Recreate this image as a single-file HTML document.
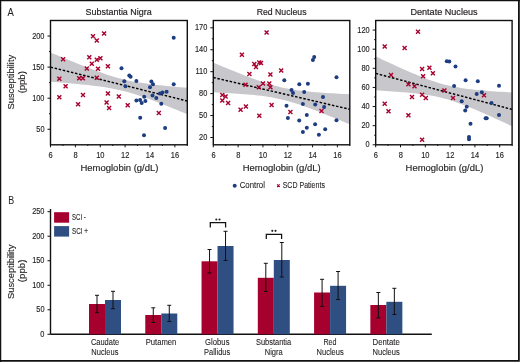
<!DOCTYPE html>
<html><head><meta charset="utf-8"><style>
html,body{margin:0;padding:0;background:#fff;width:520px;height:362px;overflow:hidden;position:relative}
</style></head><body>
<svg width="520" height="362" viewBox="0 0 520 362" style="position:absolute;left:0;top:0;will-change:transform">
<g font-family='"Liberation Sans", sans-serif' fill="#231f20" stroke="#231f20" stroke-width="0.3">
<path d="M0.6,0 V362 M0,0.6 H520" stroke="#111" stroke-width="1.3" fill="none"/>
<path d="M518.9,0 V361.6 M0,360.8 H519.8" stroke="#111" stroke-width="1.8" fill="none"/>
<text x="7.40" y="15.65" font-size="11" textLength="6.32" lengthAdjust="spacingAndGlyphs" stroke-width="0.05">A</text>
<text x="8.24" y="204.30" font-size="11" textLength="5.92" lengthAdjust="spacingAndGlyphs" stroke-width="0.05">B</text>
<path d="M50.50,52.49 L53.92,53.91 L57.34,55.33 L60.76,56.75 L64.18,58.16 L67.60,59.56 L71.02,60.95 L74.44,62.34 L77.86,63.71 L81.28,65.07 L84.70,66.42 L88.12,67.75 L91.54,69.05 L94.96,70.34 L98.38,71.59 L101.80,72.81 L105.22,73.99 L108.64,75.13 L112.06,76.21 L115.48,77.24 L118.90,78.20 L122.32,79.10 L125.74,79.92 L129.16,80.68 L132.58,81.38 L136.00,82.01 L139.42,82.59 L142.84,83.12 L146.26,83.61 L149.68,84.06 L153.10,84.48 L156.52,84.88 L159.94,85.26 L163.36,85.61 L166.78,85.95 L170.20,86.28 L173.62,86.59 L177.04,86.90 L180.46,87.20 L183.88,87.48 L187.30,87.77 L187.30,114.23 L183.88,112.82 L180.46,111.41 L177.04,110.02 L173.62,108.63 L170.20,107.25 L166.78,105.88 L163.36,104.52 L159.94,103.18 L156.52,101.86 L153.10,100.57 L149.68,99.29 L146.26,98.05 L142.84,96.85 L139.42,95.68 L136.00,94.57 L132.58,93.50 L129.16,92.50 L125.74,91.57 L122.32,90.70 L118.90,89.90 L115.48,89.17 L112.06,88.50 L108.64,87.89 L105.22,87.33 L101.80,86.81 L98.38,86.34 L94.96,85.90 L91.54,85.49 L88.12,85.10 L84.70,84.73 L81.28,84.38 L77.86,84.05 L74.44,83.73 L71.02,83.42 L67.60,83.11 L64.18,82.82 L60.76,82.54 L57.34,82.26 L53.92,81.98 L50.50,81.71Z" fill="#c8c7cc" stroke="none"/>
<line x1="50.5" y1="67.1" x2="187.3" y2="101.0" stroke="#000" stroke-width="1.45" stroke-dasharray="2.5 1.7"/>
<path d="M61.10,57.30 L65.10,61.30 M61.10,61.30 L65.10,57.30" stroke="#a8002e" stroke-width="1.4" fill="none"/>
<path d="M91.00,34.30 L95.00,38.30 M91.00,38.30 L95.00,34.30" stroke="#a8002e" stroke-width="1.4" fill="none"/>
<path d="M94.80,38.40 L98.80,42.40 M94.80,42.40 L98.80,38.40" stroke="#a8002e" stroke-width="1.4" fill="none"/>
<path d="M102.10,31.60 L106.10,35.60 M102.10,35.60 L106.10,31.60" stroke="#a8002e" stroke-width="1.4" fill="none"/>
<path d="M87.30,55.30 L91.30,59.30 M87.30,59.30 L91.30,55.30" stroke="#a8002e" stroke-width="1.4" fill="none"/>
<path d="M94.80,57.70 L98.80,61.70 M94.80,61.70 L98.80,57.70" stroke="#a8002e" stroke-width="1.4" fill="none"/>
<path d="M98.40,56.30 L102.40,60.30 M98.40,60.30 L102.40,56.30" stroke="#a8002e" stroke-width="1.4" fill="none"/>
<path d="M89.80,61.80 L93.80,65.80 M89.80,65.80 L93.80,61.80" stroke="#a8002e" stroke-width="1.4" fill="none"/>
<path d="M84.80,66.50 L88.80,70.50 M84.80,70.50 L88.80,66.50" stroke="#a8002e" stroke-width="1.4" fill="none"/>
<path d="M96.00,66.80 L100.00,70.80 M96.00,70.80 L100.00,66.80" stroke="#a8002e" stroke-width="1.4" fill="none"/>
<path d="M105.90,64.30 L109.90,68.30 M105.90,68.30 L109.90,64.30" stroke="#a8002e" stroke-width="1.4" fill="none"/>
<path d="M57.30,76.70 L61.30,80.70 M57.30,80.70 L61.30,76.70" stroke="#a8002e" stroke-width="1.4" fill="none"/>
<path d="M77.20,76.20 L81.20,80.20 M77.20,80.20 L81.20,76.20" stroke="#a8002e" stroke-width="1.4" fill="none"/>
<path d="M80.90,76.20 L84.90,80.20 M80.90,80.20 L84.90,76.20" stroke="#a8002e" stroke-width="1.4" fill="none"/>
<path d="M94.80,75.80 L98.80,79.80 M94.80,79.80 L98.80,75.80" stroke="#a8002e" stroke-width="1.4" fill="none"/>
<path d="M63.60,84.30 L67.60,88.30 M63.60,88.30 L67.60,84.30" stroke="#a8002e" stroke-width="1.4" fill="none"/>
<path d="M57.30,95.20 L61.30,99.20 M57.30,99.20 L61.30,95.20" stroke="#a8002e" stroke-width="1.4" fill="none"/>
<path d="M81.00,93.10 L85.00,97.10 M81.00,97.10 L85.00,93.10" stroke="#a8002e" stroke-width="1.4" fill="none"/>
<path d="M76.10,102.20 L80.10,106.20 M76.10,106.20 L80.10,102.20" stroke="#a8002e" stroke-width="1.4" fill="none"/>
<path d="M105.90,91.40 L109.90,95.40 M105.90,95.40 L109.90,91.40" stroke="#a8002e" stroke-width="1.4" fill="none"/>
<path d="M104.60,100.50 L108.60,104.50 M104.60,104.50 L108.60,100.50" stroke="#a8002e" stroke-width="1.4" fill="none"/>
<path d="M107.10,106.00 L111.10,110.00 M107.10,110.00 L111.10,106.00" stroke="#a8002e" stroke-width="1.4" fill="none"/>
<path d="M116.80,94.60 L120.80,98.60 M116.80,98.60 L120.80,94.60" stroke="#a8002e" stroke-width="1.4" fill="none"/>
<path d="M125.70,103.30 L129.70,107.30 M125.70,107.30 L129.70,103.30" stroke="#a8002e" stroke-width="1.4" fill="none"/>
<path d="M156.80,110.90 L160.80,114.90 M156.80,114.90 L160.80,110.90" stroke="#a8002e" stroke-width="1.4" fill="none"/>
<circle cx="173.70" cy="37.80" r="2.0" fill="#1d3d82" stroke="none"/>
<circle cx="121.50" cy="68.30" r="2.0" fill="#1d3d82" stroke="none"/>
<circle cx="129.30" cy="75.50" r="2.0" fill="#1d3d82" stroke="none"/>
<circle cx="130.60" cy="76.70" r="2.0" fill="#1d3d82" stroke="none"/>
<circle cx="124.30" cy="81.30" r="2.0" fill="#1d3d82" stroke="none"/>
<circle cx="125.50" cy="86.30" r="2.0" fill="#1d3d82" stroke="none"/>
<circle cx="136.40" cy="81.00" r="2.0" fill="#1d3d82" stroke="none"/>
<circle cx="151.40" cy="81.50" r="2.0" fill="#1d3d82" stroke="none"/>
<circle cx="153.00" cy="84.30" r="2.0" fill="#1d3d82" stroke="none"/>
<circle cx="150.00" cy="87.30" r="2.0" fill="#1d3d82" stroke="none"/>
<circle cx="173.70" cy="84.30" r="2.0" fill="#1d3d82" stroke="none"/>
<circle cx="144.20" cy="96.70" r="2.0" fill="#1d3d82" stroke="none"/>
<circle cx="136.40" cy="100.50" r="2.0" fill="#1d3d82" stroke="none"/>
<circle cx="140.10" cy="100.10" r="2.0" fill="#1d3d82" stroke="none"/>
<circle cx="141.70" cy="103.00" r="2.0" fill="#1d3d82" stroke="none"/>
<circle cx="145.40" cy="100.90" r="2.0" fill="#1d3d82" stroke="none"/>
<circle cx="152.50" cy="95.60" r="2.0" fill="#1d3d82" stroke="none"/>
<circle cx="156.30" cy="98.10" r="2.0" fill="#1d3d82" stroke="none"/>
<circle cx="160.00" cy="93.40" r="2.0" fill="#1d3d82" stroke="none"/>
<circle cx="162.50" cy="92.60" r="2.0" fill="#1d3d82" stroke="none"/>
<circle cx="166.60" cy="91.80" r="2.0" fill="#1d3d82" stroke="none"/>
<circle cx="161.30" cy="103.70" r="2.0" fill="#1d3d82" stroke="none"/>
<circle cx="140.20" cy="117.80" r="2.0" fill="#1d3d82" stroke="none"/>
<circle cx="165.10" cy="128.00" r="2.0" fill="#1d3d82" stroke="none"/>
<circle cx="144.00" cy="135.20" r="2.0" fill="#1d3d82" stroke="none"/>
<rect x="50.5" y="20.5" width="136.80" height="124.30" fill="none" stroke="#111" stroke-width="1.4"/>
<line x1="47.5" y1="129.26" x2="50.5" y2="129.26" stroke="#111" stroke-width="1"/>
<text x="36.29" y="131.87" font-size="8.6" textLength="8.23" lengthAdjust="spacingAndGlyphs" stroke-width="0.15">50</text>
<line x1="47.5" y1="98.19" x2="50.5" y2="98.19" stroke="#111" stroke-width="1"/>
<text x="32.14" y="100.80" font-size="8.6" textLength="12.34" lengthAdjust="spacingAndGlyphs" stroke-width="0.15">100</text>
<line x1="47.5" y1="67.11" x2="50.5" y2="67.11" stroke="#111" stroke-width="1"/>
<text x="32.14" y="69.72" font-size="8.6" textLength="12.34" lengthAdjust="spacingAndGlyphs" stroke-width="0.15">150</text>
<line x1="47.5" y1="36.04" x2="50.5" y2="36.04" stroke="#111" stroke-width="1"/>
<text x="32.14" y="38.65" font-size="8.6" textLength="12.34" lengthAdjust="spacingAndGlyphs" stroke-width="0.15">200</text>
<line x1="49.0" y1="113.73" x2="50.5" y2="113.73" stroke="#111" stroke-width="1"/>
<line x1="49.0" y1="82.65" x2="50.5" y2="82.65" stroke="#111" stroke-width="1"/>
<line x1="49.0" y1="51.58" x2="50.5" y2="51.58" stroke="#111" stroke-width="1"/>
<line x1="50.50" y1="144.8" x2="50.50" y2="147.3" stroke="#111" stroke-width="1"/>
<text x="48.61" y="158.00" font-size="8.6" textLength="4.16" lengthAdjust="spacingAndGlyphs" stroke-width="0.15">6</text>
<line x1="62.94" y1="144.8" x2="62.94" y2="146.0" stroke="#111" stroke-width="1"/>
<line x1="75.37" y1="144.8" x2="75.37" y2="147.3" stroke="#111" stroke-width="1"/>
<text x="73.52" y="158.00" font-size="8.6" textLength="4.16" lengthAdjust="spacingAndGlyphs" stroke-width="0.15">8</text>
<line x1="87.81" y1="144.8" x2="87.81" y2="146.0" stroke="#111" stroke-width="1"/>
<line x1="100.25" y1="144.8" x2="100.25" y2="147.3" stroke="#111" stroke-width="1"/>
<text x="96.14" y="158.00" font-size="8.6" textLength="8.32" lengthAdjust="spacingAndGlyphs" stroke-width="0.15">10</text>
<line x1="112.68" y1="144.8" x2="112.68" y2="146.0" stroke="#111" stroke-width="1"/>
<line x1="125.12" y1="144.8" x2="125.12" y2="147.3" stroke="#111" stroke-width="1"/>
<text x="121.05" y="158.00" font-size="8.6" textLength="8.32" lengthAdjust="spacingAndGlyphs" stroke-width="0.15">12</text>
<line x1="137.55" y1="144.8" x2="137.55" y2="146.0" stroke="#111" stroke-width="1"/>
<line x1="149.99" y1="144.8" x2="149.99" y2="147.3" stroke="#111" stroke-width="1"/>
<text x="145.85" y="158.00" font-size="8.6" textLength="8.32" lengthAdjust="spacingAndGlyphs" stroke-width="0.15">14</text>
<line x1="162.43" y1="144.8" x2="162.43" y2="146.0" stroke="#111" stroke-width="1"/>
<line x1="174.86" y1="144.8" x2="174.86" y2="147.3" stroke="#111" stroke-width="1"/>
<text x="170.76" y="158.00" font-size="8.6" textLength="8.32" lengthAdjust="spacingAndGlyphs" stroke-width="0.15">16</text>
<line x1="187.30" y1="144.8" x2="187.30" y2="146.0" stroke="#111" stroke-width="1"/>
<text x="85.55" y="14.60" font-size="9.8" textLength="66.18" lengthAdjust="spacingAndGlyphs" stroke-width="0.2">Substantia Nigra</text>
<text x="80.44" y="171.20" font-size="8.7" textLength="77.99" lengthAdjust="spacingAndGlyphs" stroke-width="0.15">Hemoglobin (g/dL)</text>
<path d="M213.30,62.69 L216.71,64.11 L220.12,65.52 L223.54,66.92 L226.95,68.32 L230.36,69.70 L233.78,71.08 L237.19,72.45 L240.60,73.80 L244.01,75.13 L247.43,76.44 L250.84,77.74 L254.25,79.00 L257.66,80.23 L261.07,81.43 L264.49,82.58 L267.90,83.67 L271.31,84.71 L274.73,85.68 L278.14,86.58 L281.55,87.40 L284.96,88.14 L288.38,88.81 L291.79,89.41 L295.20,89.94 L298.61,90.42 L302.02,90.84 L305.44,91.23 L308.85,91.57 L312.26,91.89 L315.68,92.18 L319.09,92.45 L322.50,92.70 L325.91,92.93 L329.33,93.15 L332.74,93.36 L336.15,93.56 L339.56,93.76 L342.98,93.94 L346.39,94.12 L349.80,94.29 L349.80,124.31 L346.39,122.89 L342.98,121.48 L339.56,120.07 L336.15,118.68 L332.74,117.29 L329.33,115.91 L325.91,114.54 L322.50,113.18 L319.09,111.84 L315.68,110.52 L312.26,109.22 L308.85,107.95 L305.44,106.70 L302.02,105.50 L298.61,104.33 L295.20,103.22 L291.79,102.16 L288.38,101.17 L284.96,100.25 L281.55,99.40 L278.14,98.63 L274.73,97.94 L271.31,97.32 L267.90,96.77 L264.49,96.27 L261.07,95.83 L257.66,95.44 L254.25,95.08 L250.84,94.75 L247.43,94.46 L244.01,94.18 L240.60,93.92 L237.19,93.68 L233.78,93.46 L230.36,93.25 L226.95,93.04 L223.54,92.85 L220.12,92.66 L216.71,92.48 L213.30,92.31Z" fill="#c8c7cc" stroke="none"/>
<line x1="213.3" y1="77.5" x2="349.8" y2="109.3" stroke="#000" stroke-width="1.45" stroke-dasharray="2.5 1.7"/>
<path d="M264.60,30.60 L268.60,34.60 M264.60,34.60 L268.60,30.60" stroke="#a8002e" stroke-width="1.4" fill="none"/>
<path d="M239.90,52.70 L243.90,56.70 M239.90,56.70 L243.90,52.70" stroke="#a8002e" stroke-width="1.4" fill="none"/>
<path d="M252.30,62.10 L256.30,66.10 M252.30,66.10 L256.30,62.10" stroke="#a8002e" stroke-width="1.4" fill="none"/>
<path d="M254.00,65.10 L258.00,69.10 M254.00,69.10 L258.00,65.10" stroke="#a8002e" stroke-width="1.4" fill="none"/>
<path d="M257.30,60.50 L261.30,64.50 M257.30,64.50 L261.30,60.50" stroke="#a8002e" stroke-width="1.4" fill="none"/>
<path d="M259.00,61.00 L263.00,65.00 M259.00,65.00 L263.00,61.00" stroke="#a8002e" stroke-width="1.4" fill="none"/>
<path d="M247.40,72.00 L251.40,76.00 M247.40,76.00 L251.40,72.00" stroke="#a8002e" stroke-width="1.4" fill="none"/>
<path d="M268.40,72.50 L272.40,76.50 M268.40,76.50 L272.40,72.50" stroke="#a8002e" stroke-width="1.4" fill="none"/>
<path d="M279.20,68.40 L283.20,72.40 M279.20,72.40 L283.20,68.40" stroke="#a8002e" stroke-width="1.4" fill="none"/>
<path d="M243.50,82.80 L247.50,86.80 M243.50,86.80 L247.50,82.80" stroke="#a8002e" stroke-width="1.4" fill="none"/>
<path d="M261.00,81.50 L265.00,85.50 M261.00,85.50 L265.00,81.50" stroke="#a8002e" stroke-width="1.4" fill="none"/>
<path d="M256.80,85.30 L260.80,89.30 M256.80,89.30 L260.80,85.30" stroke="#a8002e" stroke-width="1.4" fill="none"/>
<path d="M267.30,81.50 L271.30,85.50 M267.30,85.50 L271.30,81.50" stroke="#a8002e" stroke-width="1.4" fill="none"/>
<path d="M268.40,85.30 L272.40,89.30 M268.40,89.30 L272.40,85.30" stroke="#a8002e" stroke-width="1.4" fill="none"/>
<path d="M220.30,93.10 L224.30,97.10 M220.30,97.10 L224.30,93.10" stroke="#a8002e" stroke-width="1.4" fill="none"/>
<path d="M223.60,94.40 L227.60,98.40 M223.60,98.40 L227.60,94.40" stroke="#a8002e" stroke-width="1.4" fill="none"/>
<path d="M220.30,98.50 L224.30,102.50 M220.30,102.50 L224.30,98.50" stroke="#a8002e" stroke-width="1.4" fill="none"/>
<path d="M226.10,101.00 L230.10,105.00 M226.10,105.00 L230.10,101.00" stroke="#a8002e" stroke-width="1.4" fill="none"/>
<path d="M238.60,107.70 L242.60,111.70 M238.60,111.70 L242.60,107.70" stroke="#a8002e" stroke-width="1.4" fill="none"/>
<path d="M243.90,104.40 L247.90,108.40 M243.90,108.40 L247.90,104.40" stroke="#a8002e" stroke-width="1.4" fill="none"/>
<path d="M257.30,113.80 L261.30,117.80 M257.30,117.80 L261.30,113.80" stroke="#a8002e" stroke-width="1.4" fill="none"/>
<path d="M269.60,103.00 L273.60,107.00 M269.60,107.00 L273.60,103.00" stroke="#a8002e" stroke-width="1.4" fill="none"/>
<path d="M288.40,110.00 L292.40,114.00 M288.40,114.00 L292.40,110.00" stroke="#a8002e" stroke-width="1.4" fill="none"/>
<path d="M319.50,109.10 L323.50,113.10 M319.50,113.10 L323.50,109.10" stroke="#a8002e" stroke-width="1.4" fill="none"/>
<circle cx="314.20" cy="57.00" r="2.0" fill="#1d3d82" stroke="none"/>
<circle cx="312.90" cy="60.00" r="2.0" fill="#1d3d82" stroke="none"/>
<circle cx="336.50" cy="77.20" r="2.0" fill="#1d3d82" stroke="none"/>
<circle cx="284.30" cy="80.20" r="2.0" fill="#1d3d82" stroke="none"/>
<circle cx="299.30" cy="84.30" r="2.0" fill="#1d3d82" stroke="none"/>
<circle cx="307.90" cy="83.80" r="2.0" fill="#1d3d82" stroke="none"/>
<circle cx="291.50" cy="90.10" r="2.0" fill="#1d3d82" stroke="none"/>
<circle cx="293.00" cy="93.10" r="2.0" fill="#1d3d82" stroke="none"/>
<circle cx="304.20" cy="92.10" r="2.0" fill="#1d3d82" stroke="none"/>
<circle cx="323.00" cy="97.10" r="2.0" fill="#1d3d82" stroke="none"/>
<circle cx="286.50" cy="105.70" r="2.0" fill="#1d3d82" stroke="none"/>
<circle cx="302.90" cy="103.90" r="2.0" fill="#1d3d82" stroke="none"/>
<circle cx="315.20" cy="104.40" r="2.0" fill="#1d3d82" stroke="none"/>
<circle cx="324.10" cy="107.00" r="2.0" fill="#1d3d82" stroke="none"/>
<circle cx="306.80" cy="115.10" r="2.0" fill="#1d3d82" stroke="none"/>
<circle cx="287.90" cy="118.00" r="2.0" fill="#1d3d82" stroke="none"/>
<circle cx="299.20" cy="120.50" r="2.0" fill="#1d3d82" stroke="none"/>
<circle cx="336.50" cy="120.20" r="2.0" fill="#1d3d82" stroke="none"/>
<circle cx="315.10" cy="124.20" r="2.0" fill="#1d3d82" stroke="none"/>
<circle cx="306.80" cy="127.80" r="2.0" fill="#1d3d82" stroke="none"/>
<circle cx="325.20" cy="129.30" r="2.0" fill="#1d3d82" stroke="none"/>
<circle cx="302.90" cy="132.10" r="2.0" fill="#1d3d82" stroke="none"/>
<circle cx="318.90" cy="134.80" r="2.0" fill="#1d3d82" stroke="none"/>
<rect x="213.3" y="20.5" width="136.50" height="124.30" fill="none" stroke="#111" stroke-width="1.4"/>
<line x1="210.3" y1="137.49" x2="213.3" y2="137.49" stroke="#111" stroke-width="1"/>
<text x="199.09" y="140.10" font-size="8.6" textLength="8.23" lengthAdjust="spacingAndGlyphs" stroke-width="0.15">20</text>
<line x1="210.3" y1="115.55" x2="213.3" y2="115.55" stroke="#111" stroke-width="1"/>
<text x="199.09" y="118.16" font-size="8.6" textLength="8.23" lengthAdjust="spacingAndGlyphs" stroke-width="0.15">50</text>
<line x1="210.3" y1="93.62" x2="213.3" y2="93.62" stroke="#111" stroke-width="1"/>
<text x="199.09" y="96.23" font-size="8.6" textLength="8.23" lengthAdjust="spacingAndGlyphs" stroke-width="0.15">80</text>
<line x1="210.3" y1="71.68" x2="213.3" y2="71.68" stroke="#111" stroke-width="1"/>
<text x="195.54" y="74.29" font-size="8.6" textLength="11.79" lengthAdjust="spacingAndGlyphs" stroke-width="0.15">110</text>
<line x1="210.3" y1="49.75" x2="213.3" y2="49.75" stroke="#111" stroke-width="1"/>
<text x="194.94" y="52.36" font-size="8.6" textLength="12.34" lengthAdjust="spacingAndGlyphs" stroke-width="0.15">140</text>
<line x1="210.3" y1="27.81" x2="213.3" y2="27.81" stroke="#111" stroke-width="1"/>
<text x="194.94" y="30.42" font-size="8.6" textLength="12.34" lengthAdjust="spacingAndGlyphs" stroke-width="0.15">170</text>
<line x1="211.8" y1="126.52" x2="213.3" y2="126.52" stroke="#111" stroke-width="1"/>
<line x1="211.8" y1="104.59" x2="213.3" y2="104.59" stroke="#111" stroke-width="1"/>
<line x1="211.8" y1="82.65" x2="213.3" y2="82.65" stroke="#111" stroke-width="1"/>
<line x1="211.8" y1="60.71" x2="213.3" y2="60.71" stroke="#111" stroke-width="1"/>
<line x1="211.8" y1="38.78" x2="213.3" y2="38.78" stroke="#111" stroke-width="1"/>
<line x1="213.30" y1="144.8" x2="213.30" y2="147.3" stroke="#111" stroke-width="1"/>
<text x="211.41" y="158.00" font-size="8.6" textLength="4.16" lengthAdjust="spacingAndGlyphs" stroke-width="0.15">6</text>
<line x1="225.71" y1="144.8" x2="225.71" y2="146.0" stroke="#111" stroke-width="1"/>
<line x1="238.12" y1="144.8" x2="238.12" y2="147.3" stroke="#111" stroke-width="1"/>
<text x="236.26" y="158.00" font-size="8.6" textLength="4.16" lengthAdjust="spacingAndGlyphs" stroke-width="0.15">8</text>
<line x1="250.53" y1="144.8" x2="250.53" y2="146.0" stroke="#111" stroke-width="1"/>
<line x1="262.94" y1="144.8" x2="262.94" y2="147.3" stroke="#111" stroke-width="1"/>
<text x="258.83" y="158.00" font-size="8.6" textLength="8.32" lengthAdjust="spacingAndGlyphs" stroke-width="0.15">10</text>
<line x1="275.35" y1="144.8" x2="275.35" y2="146.0" stroke="#111" stroke-width="1"/>
<line x1="287.75" y1="144.8" x2="287.75" y2="147.3" stroke="#111" stroke-width="1"/>
<text x="283.69" y="158.00" font-size="8.6" textLength="8.32" lengthAdjust="spacingAndGlyphs" stroke-width="0.15">12</text>
<line x1="300.16" y1="144.8" x2="300.16" y2="146.0" stroke="#111" stroke-width="1"/>
<line x1="312.57" y1="144.8" x2="312.57" y2="147.3" stroke="#111" stroke-width="1"/>
<text x="308.43" y="158.00" font-size="8.6" textLength="8.32" lengthAdjust="spacingAndGlyphs" stroke-width="0.15">14</text>
<line x1="324.98" y1="144.8" x2="324.98" y2="146.0" stroke="#111" stroke-width="1"/>
<line x1="337.39" y1="144.8" x2="337.39" y2="147.3" stroke="#111" stroke-width="1"/>
<text x="333.29" y="158.00" font-size="8.6" textLength="8.32" lengthAdjust="spacingAndGlyphs" stroke-width="0.15">16</text>
<line x1="349.80" y1="144.8" x2="349.80" y2="146.0" stroke="#111" stroke-width="1"/>
<text x="256.70" y="14.60" font-size="9.8" textLength="49.80" lengthAdjust="spacingAndGlyphs" stroke-width="0.2">Red Nucleus</text>
<text x="242.74" y="171.20" font-size="8.7" textLength="77.99" lengthAdjust="spacingAndGlyphs" stroke-width="0.15">Hemoglobin (g/dL)</text>
<path d="M375.70,56.45 L379.11,58.05 L382.52,59.64 L385.93,61.23 L389.34,62.80 L392.75,64.37 L396.16,65.92 L399.57,67.46 L402.98,68.98 L406.39,70.49 L409.80,71.97 L413.21,73.43 L416.62,74.86 L420.03,76.25 L423.44,77.60 L426.85,78.90 L430.26,80.14 L433.67,81.32 L437.08,82.43 L440.49,83.46 L443.90,84.40 L447.31,85.26 L450.72,86.04 L454.13,86.74 L457.54,87.36 L460.95,87.92 L464.36,88.42 L467.77,88.88 L471.18,89.29 L474.59,89.66 L478.00,90.01 L481.41,90.32 L484.82,90.62 L488.23,90.90 L491.64,91.16 L495.05,91.41 L498.46,91.64 L501.87,91.87 L505.28,92.08 L508.69,92.29 L512.10,92.49 L512.10,126.31 L508.69,124.71 L505.28,123.12 L501.87,121.53 L498.46,119.96 L495.05,118.39 L491.64,116.84 L488.23,115.30 L484.82,113.78 L481.41,112.28 L478.00,110.79 L474.59,109.34 L471.18,107.91 L467.77,106.52 L464.36,105.18 L460.95,103.88 L457.54,102.64 L454.13,101.46 L450.72,100.36 L447.31,99.34 L443.90,98.40 L440.49,97.54 L437.08,96.77 L433.67,96.08 L430.26,95.46 L426.85,94.90 L423.44,94.40 L420.03,93.95 L416.62,93.54 L413.21,93.17 L409.80,92.83 L406.39,92.51 L402.98,92.22 L399.57,91.94 L396.16,91.68 L392.75,91.43 L389.34,91.20 L385.93,90.97 L382.52,90.76 L379.11,90.55 L375.70,90.35Z" fill="#c8c7cc" stroke="none"/>
<line x1="375.7" y1="73.4" x2="512.1" y2="109.4" stroke="#000" stroke-width="1.45" stroke-dasharray="2.5 1.7"/>
<path d="M416.00,29.80 L420.00,33.80 M416.00,33.80 L420.00,29.80" stroke="#a8002e" stroke-width="1.4" fill="none"/>
<path d="M382.70,44.40 L386.70,48.40 M382.70,48.40 L386.70,44.40" stroke="#a8002e" stroke-width="1.4" fill="none"/>
<path d="M402.60,45.90 L406.60,49.90 M402.60,49.90 L406.60,45.90" stroke="#a8002e" stroke-width="1.4" fill="none"/>
<path d="M420.10,67.10 L424.10,71.10 M420.10,71.10 L424.10,67.10" stroke="#a8002e" stroke-width="1.4" fill="none"/>
<path d="M427.40,65.80 L431.40,69.80 M427.40,69.80 L431.40,65.80" stroke="#a8002e" stroke-width="1.4" fill="none"/>
<path d="M430.90,71.30 L434.90,75.30 M430.90,75.30 L434.90,71.30" stroke="#a8002e" stroke-width="1.4" fill="none"/>
<path d="M421.10,74.20 L425.10,78.20 M421.10,78.20 L425.10,74.20" stroke="#a8002e" stroke-width="1.4" fill="none"/>
<path d="M389.00,73.00 L393.00,77.00 M389.00,77.00 L393.00,73.00" stroke="#a8002e" stroke-width="1.4" fill="none"/>
<path d="M406.40,82.30 L410.40,86.30 M406.40,86.30 L410.40,82.30" stroke="#a8002e" stroke-width="1.4" fill="none"/>
<path d="M412.50,84.30 L416.50,88.30 M412.50,88.30 L416.50,84.30" stroke="#a8002e" stroke-width="1.4" fill="none"/>
<path d="M410.00,95.10 L414.00,99.10 M410.00,99.10 L414.00,95.10" stroke="#a8002e" stroke-width="1.4" fill="none"/>
<path d="M420.10,92.70 L424.10,96.70 M420.10,96.70 L424.10,92.70" stroke="#a8002e" stroke-width="1.4" fill="none"/>
<path d="M423.80,95.90 L427.80,99.90 M423.80,99.90 L427.80,95.90" stroke="#a8002e" stroke-width="1.4" fill="none"/>
<path d="M382.70,101.70 L386.70,105.70 M382.70,105.70 L386.70,101.70" stroke="#a8002e" stroke-width="1.4" fill="none"/>
<path d="M386.50,109.20 L390.50,113.20 M386.50,113.20 L390.50,109.20" stroke="#a8002e" stroke-width="1.4" fill="none"/>
<path d="M406.40,113.30 L410.40,117.30 M406.40,117.30 L410.40,113.30" stroke="#a8002e" stroke-width="1.4" fill="none"/>
<path d="M442.40,88.50 L446.40,92.50 M442.40,92.50 L446.40,88.50" stroke="#a8002e" stroke-width="1.4" fill="none"/>
<path d="M451.00,95.90 L455.00,99.90 M451.00,99.90 L455.00,95.90" stroke="#a8002e" stroke-width="1.4" fill="none"/>
<path d="M482.00,93.20 L486.00,97.20 M482.00,97.20 L486.00,93.20" stroke="#a8002e" stroke-width="1.4" fill="none"/>
<path d="M420.10,137.70 L424.10,141.70 M420.10,141.70 L424.10,137.70" stroke="#a8002e" stroke-width="1.4" fill="none"/>
<circle cx="446.80" cy="61.20" r="2.0" fill="#1d3d82" stroke="none"/>
<circle cx="449.30" cy="61.50" r="2.0" fill="#1d3d82" stroke="none"/>
<circle cx="455.50" cy="66.60" r="2.0" fill="#1d3d82" stroke="none"/>
<circle cx="465.60" cy="80.20" r="2.0" fill="#1d3d82" stroke="none"/>
<circle cx="477.80" cy="81.30" r="2.0" fill="#1d3d82" stroke="none"/>
<circle cx="454.10" cy="86.10" r="2.0" fill="#1d3d82" stroke="none"/>
<circle cx="499.00" cy="85.70" r="2.0" fill="#1d3d82" stroke="none"/>
<circle cx="476.70" cy="93.90" r="2.0" fill="#1d3d82" stroke="none"/>
<circle cx="481.80" cy="92.30" r="2.0" fill="#1d3d82" stroke="none"/>
<circle cx="461.70" cy="101.20" r="2.0" fill="#1d3d82" stroke="none"/>
<circle cx="466.70" cy="106.70" r="2.0" fill="#1d3d82" stroke="none"/>
<circle cx="465.20" cy="110.50" r="2.0" fill="#1d3d82" stroke="none"/>
<circle cx="491.50" cy="102.90" r="2.0" fill="#1d3d82" stroke="none"/>
<circle cx="485.60" cy="118.20" r="2.0" fill="#1d3d82" stroke="none"/>
<circle cx="486.70" cy="118.20" r="2.0" fill="#1d3d82" stroke="none"/>
<circle cx="499.00" cy="115.10" r="2.0" fill="#1d3d82" stroke="none"/>
<circle cx="470.50" cy="123.70" r="2.0" fill="#1d3d82" stroke="none"/>
<circle cx="469.00" cy="137.00" r="2.0" fill="#1d3d82" stroke="none"/>
<circle cx="469.00" cy="139.20" r="2.0" fill="#1d3d82" stroke="none"/>
<rect x="375.7" y="20.5" width="136.40" height="124.30" fill="none" stroke="#111" stroke-width="1.4"/>
<line x1="372.7" y1="144.80" x2="375.7" y2="144.80" stroke="#111" stroke-width="1"/>
<text x="365.55" y="147.41" font-size="8.6" textLength="4.11" lengthAdjust="spacingAndGlyphs" stroke-width="0.15">0</text>
<line x1="372.7" y1="125.68" x2="375.7" y2="125.68" stroke="#111" stroke-width="1"/>
<text x="361.49" y="128.29" font-size="8.6" textLength="8.23" lengthAdjust="spacingAndGlyphs" stroke-width="0.15">20</text>
<line x1="372.7" y1="106.55" x2="375.7" y2="106.55" stroke="#111" stroke-width="1"/>
<text x="361.49" y="109.16" font-size="8.6" textLength="8.23" lengthAdjust="spacingAndGlyphs" stroke-width="0.15">40</text>
<line x1="372.7" y1="87.43" x2="375.7" y2="87.43" stroke="#111" stroke-width="1"/>
<text x="361.49" y="90.04" font-size="8.6" textLength="8.23" lengthAdjust="spacingAndGlyphs" stroke-width="0.15">60</text>
<line x1="372.7" y1="68.31" x2="375.7" y2="68.31" stroke="#111" stroke-width="1"/>
<text x="361.49" y="70.92" font-size="8.6" textLength="8.23" lengthAdjust="spacingAndGlyphs" stroke-width="0.15">80</text>
<line x1="372.7" y1="49.18" x2="375.7" y2="49.18" stroke="#111" stroke-width="1"/>
<text x="357.34" y="51.79" font-size="8.6" textLength="12.34" lengthAdjust="spacingAndGlyphs" stroke-width="0.15">100</text>
<line x1="372.7" y1="30.06" x2="375.7" y2="30.06" stroke="#111" stroke-width="1"/>
<text x="357.34" y="32.67" font-size="8.6" textLength="12.34" lengthAdjust="spacingAndGlyphs" stroke-width="0.15">120</text>
<line x1="374.2" y1="135.24" x2="375.7" y2="135.24" stroke="#111" stroke-width="1"/>
<line x1="374.2" y1="116.12" x2="375.7" y2="116.12" stroke="#111" stroke-width="1"/>
<line x1="374.2" y1="96.99" x2="375.7" y2="96.99" stroke="#111" stroke-width="1"/>
<line x1="374.2" y1="77.87" x2="375.7" y2="77.87" stroke="#111" stroke-width="1"/>
<line x1="374.2" y1="58.75" x2="375.7" y2="58.75" stroke="#111" stroke-width="1"/>
<line x1="374.2" y1="39.62" x2="375.7" y2="39.62" stroke="#111" stroke-width="1"/>
<line x1="375.70" y1="144.8" x2="375.70" y2="147.3" stroke="#111" stroke-width="1"/>
<text x="373.81" y="158.00" font-size="8.6" textLength="4.16" lengthAdjust="spacingAndGlyphs" stroke-width="0.15">6</text>
<line x1="388.10" y1="144.8" x2="388.10" y2="146.0" stroke="#111" stroke-width="1"/>
<line x1="400.50" y1="144.8" x2="400.50" y2="147.3" stroke="#111" stroke-width="1"/>
<text x="398.64" y="158.00" font-size="8.6" textLength="4.16" lengthAdjust="spacingAndGlyphs" stroke-width="0.15">8</text>
<line x1="412.90" y1="144.8" x2="412.90" y2="146.0" stroke="#111" stroke-width="1"/>
<line x1="425.30" y1="144.8" x2="425.30" y2="147.3" stroke="#111" stroke-width="1"/>
<text x="421.20" y="158.00" font-size="8.6" textLength="8.32" lengthAdjust="spacingAndGlyphs" stroke-width="0.15">10</text>
<line x1="437.70" y1="144.8" x2="437.70" y2="146.0" stroke="#111" stroke-width="1"/>
<line x1="450.10" y1="144.8" x2="450.10" y2="147.3" stroke="#111" stroke-width="1"/>
<text x="446.04" y="158.00" font-size="8.6" textLength="8.32" lengthAdjust="spacingAndGlyphs" stroke-width="0.15">12</text>
<line x1="462.50" y1="144.8" x2="462.50" y2="146.0" stroke="#111" stroke-width="1"/>
<line x1="474.90" y1="144.8" x2="474.90" y2="147.3" stroke="#111" stroke-width="1"/>
<text x="470.76" y="158.00" font-size="8.6" textLength="8.32" lengthAdjust="spacingAndGlyphs" stroke-width="0.15">14</text>
<line x1="487.30" y1="144.8" x2="487.30" y2="146.0" stroke="#111" stroke-width="1"/>
<line x1="499.70" y1="144.8" x2="499.70" y2="147.3" stroke="#111" stroke-width="1"/>
<text x="495.60" y="158.00" font-size="8.6" textLength="8.32" lengthAdjust="spacingAndGlyphs" stroke-width="0.15">16</text>
<line x1="512.10" y1="144.8" x2="512.10" y2="146.0" stroke="#111" stroke-width="1"/>
<text x="410.42" y="14.60" font-size="9.8" textLength="67.18" lengthAdjust="spacingAndGlyphs" stroke-width="0.2">Dentate Nucleus</text>
<text x="405.64" y="171.20" font-size="8.7" textLength="77.68" lengthAdjust="spacingAndGlyphs" stroke-width="0.15">Hemoglobin (g/dL)</text>
<text x="0" y="0" font-size="9.7" textLength="54.83" lengthAdjust="spacingAndGlyphs" transform="translate(13.65,109.57) rotate(-90)" stroke-width="0.15">Susceptibility</text>
<text x="0" y="0" font-size="8.6" textLength="22.18" lengthAdjust="spacingAndGlyphs" transform="translate(25.00,93.37) rotate(-90)" stroke-width="0.15">(ppb)</text>
<text x="0" y="0" font-size="9.7" textLength="54.32" lengthAdjust="spacingAndGlyphs" transform="translate(13.65,298.97) rotate(-90)" stroke-width="0.15">Susceptibility</text>
<text x="0" y="0" font-size="8.6" textLength="22.61" lengthAdjust="spacingAndGlyphs" transform="translate(25.00,282.18) rotate(-90)" stroke-width="0.15">(ppb)</text>
<circle cx="234.7" cy="185.7" r="2.0" fill="#1d3d82" stroke="none"/>
<text x="239.71" y="188.20" font-size="9.2" textLength="25.19" lengthAdjust="spacingAndGlyphs" stroke-width="0.1">Control</text>
<path d="M277.09999999999997,184.39999999999998 L279.7,187.0 M277.09999999999997,187.0 L279.7,184.39999999999998" stroke="#a8002e" stroke-width="1.1" fill="none"/>
<text x="282.65" y="188.20" font-size="9.2" textLength="42.28" lengthAdjust="spacingAndGlyphs" stroke-width="0.1">SCD Patients</text>
<line x1="50.5" y1="209" x2="50.5" y2="334.3" stroke="#111" stroke-width="1.4"/>
<line x1="50.5" y1="334.3" x2="431.8" y2="334.3" stroke="#111" stroke-width="1.4"/>
<line x1="47.5" y1="334.30" x2="50.5" y2="334.30" stroke="#111" stroke-width="1"/>
<text x="40.35" y="336.91" font-size="8.6" textLength="4.11" lengthAdjust="spacingAndGlyphs" stroke-width="0.15">0</text>
<line x1="47.5" y1="309.78" x2="50.5" y2="309.78" stroke="#111" stroke-width="1"/>
<text x="36.29" y="312.39" font-size="8.6" textLength="8.23" lengthAdjust="spacingAndGlyphs" stroke-width="0.15">50</text>
<line x1="47.5" y1="285.26" x2="50.5" y2="285.26" stroke="#111" stroke-width="1"/>
<text x="32.14" y="287.87" font-size="8.6" textLength="12.34" lengthAdjust="spacingAndGlyphs" stroke-width="0.15">100</text>
<line x1="47.5" y1="260.74" x2="50.5" y2="260.74" stroke="#111" stroke-width="1"/>
<text x="32.14" y="263.35" font-size="8.6" textLength="12.34" lengthAdjust="spacingAndGlyphs" stroke-width="0.15">150</text>
<line x1="47.5" y1="236.22" x2="50.5" y2="236.22" stroke="#111" stroke-width="1"/>
<text x="32.14" y="238.83" font-size="8.6" textLength="12.34" lengthAdjust="spacingAndGlyphs" stroke-width="0.15">200</text>
<line x1="47.5" y1="211.70" x2="50.5" y2="211.70" stroke="#111" stroke-width="1"/>
<text x="32.14" y="214.31" font-size="8.6" textLength="12.34" lengthAdjust="spacingAndGlyphs" stroke-width="0.15">250</text>
<rect x="54.1" y="212.2" width="15" height="10.5" fill="#a6002e" stroke="none"/>
<rect x="54.1" y="226.1" width="15" height="10.5" fill="#2f4f82" stroke="none"/>
<text x="72.10" y="220.00" font-size="9.2" textLength="13.69" lengthAdjust="spacingAndGlyphs" stroke-width="0.1">SCI -</text>
<text x="72.09" y="234.00" font-size="9.2" textLength="15.92" lengthAdjust="spacingAndGlyphs" stroke-width="0.1">SCI +</text>
<rect x="89.00" y="304" width="16" height="30.30" fill="#a6002e" stroke="none"/>
<rect x="105.00" y="300" width="16" height="34.30" fill="#2f4f82" stroke="none"/>
<path d="M97.00,295.3 V312.7 M95.00,295.3 H99.00 M95.00,312.7 H99.00" stroke="#111" stroke-width="1" fill="none"/>
<path d="M113.00,291.3 V308.7 M111.00,291.3 H115.00 M111.00,308.7 H115.00" stroke="#111" stroke-width="1" fill="none"/>
<text x="90.93" y="344.80" font-size="8.5" textLength="28.18" lengthAdjust="spacingAndGlyphs" stroke-width="0.1">Caudate</text>
<text x="91.30" y="354.50" font-size="8.5" textLength="27.15" lengthAdjust="spacingAndGlyphs" stroke-width="0.1">Nucleus</text>
<rect x="145.27" y="315" width="16" height="19.30" fill="#a6002e" stroke="none"/>
<rect x="161.27" y="313.5" width="16" height="20.80" fill="#2f4f82" stroke="none"/>
<path d="M153.27,307.8 V322.5 M151.27,307.8 H155.27 M151.27,322.5 H155.27" stroke="#111" stroke-width="1" fill="none"/>
<path d="M169.27,305.3 V321.5 M167.27,305.3 H171.27 M167.27,321.5 H171.27" stroke="#111" stroke-width="1" fill="none"/>
<text x="145.69" y="344.80" font-size="8.5" textLength="30.69" lengthAdjust="spacingAndGlyphs" stroke-width="0.1">Putamen</text>
<rect x="201.54" y="261.3" width="16" height="73.00" fill="#a6002e" stroke="none"/>
<rect x="217.54" y="246" width="16" height="88.30" fill="#2f4f82" stroke="none"/>
<path d="M209.54,249.5 V273 M207.54,249.5 H211.54 M207.54,273 H211.54" stroke="#111" stroke-width="1" fill="none"/>
<path d="M225.54,231.3 V260.5 M223.54,231.3 H227.54 M223.54,260.5 H227.54" stroke="#111" stroke-width="1" fill="none"/>
<text x="205.12" y="344.80" font-size="8.5" textLength="24.38" lengthAdjust="spacingAndGlyphs" stroke-width="0.1">Globus</text>
<text x="204.11" y="354.50" font-size="8.5" textLength="26.03" lengthAdjust="spacingAndGlyphs" stroke-width="0.1">Pallidus</text>
<rect x="257.81" y="277.8" width="16" height="56.50" fill="#a6002e" stroke="none"/>
<rect x="273.81" y="260" width="16" height="74.30" fill="#2f4f82" stroke="none"/>
<path d="M265.81,263.3 V291.5 M263.81,263.3 H267.81 M263.81,291.5 H267.81" stroke="#111" stroke-width="1" fill="none"/>
<path d="M281.81,242.5 V277 M279.81,242.5 H283.81 M279.81,277 H283.81" stroke="#111" stroke-width="1" fill="none"/>
<text x="255.93" y="344.80" font-size="8.5" textLength="35.24" lengthAdjust="spacingAndGlyphs" stroke-width="0.1">Substantia</text>
<text x="264.70" y="354.50" font-size="8.5" textLength="18.00" lengthAdjust="spacingAndGlyphs" stroke-width="0.1">Nigra</text>
<rect x="314.08" y="292.5" width="16" height="41.80" fill="#a6002e" stroke="none"/>
<rect x="330.08" y="285.8" width="16" height="48.50" fill="#2f4f82" stroke="none"/>
<path d="M322.08,279.3 V306.3 M320.08,279.3 H324.08 M320.08,306.3 H324.08" stroke="#111" stroke-width="1" fill="none"/>
<path d="M338.08,271.5 V299.5 M336.08,271.5 H340.08 M336.08,299.5 H340.08" stroke="#111" stroke-width="1" fill="none"/>
<text x="323.43" y="344.80" font-size="8.5" textLength="13.13" lengthAdjust="spacingAndGlyphs" stroke-width="0.1">Red</text>
<text x="316.60" y="354.50" font-size="8.5" textLength="27.15" lengthAdjust="spacingAndGlyphs" stroke-width="0.1">Nucleus</text>
<rect x="370.35" y="305" width="16" height="29.30" fill="#a6002e" stroke="none"/>
<rect x="386.35" y="301.8" width="16" height="32.50" fill="#2f4f82" stroke="none"/>
<path d="M378.35,292.5 V318 M376.35,292.5 H380.35 M376.35,318 H380.35" stroke="#111" stroke-width="1" fill="none"/>
<path d="M394.35,288.3 V314.5 M392.35,288.3 H396.35 M392.35,314.5 H396.35" stroke="#111" stroke-width="1" fill="none"/>
<text x="372.58" y="344.80" font-size="8.5" textLength="27.25" lengthAdjust="spacingAndGlyphs" stroke-width="0.1">Dentate</text>
<text x="372.60" y="354.50" font-size="8.5" textLength="27.15" lengthAdjust="spacingAndGlyphs" stroke-width="0.1">Nucleus</text>
<path d="M210.3,227.6 V222.7 H225.6 V227.6" stroke="#111" stroke-width="1.25" fill="none"/>
<circle cx="216.30" cy="219.5" r="1.05" fill="#231f20" stroke="none"/>
<circle cx="219.50" cy="219.5" r="1.05" fill="#231f20" stroke="none"/>
<path d="M266.3,238.9 V234.3 H281.6 V238.9" stroke="#111" stroke-width="1.25" fill="none"/>
<circle cx="272.30" cy="230.85" r="1.05" fill="#231f20" stroke="none"/>
<circle cx="275.50" cy="230.85" r="1.05" fill="#231f20" stroke="none"/>
</g></svg>
</body></html>
